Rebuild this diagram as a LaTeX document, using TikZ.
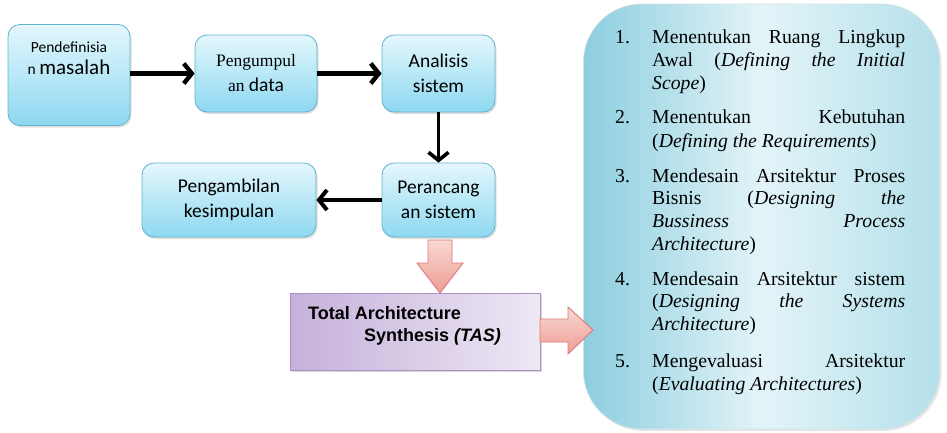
\documentclass[tikz,border=0pt]{standalone}
\usepackage{fontspec}
\setmainfont{Liberation Serif}
\newfontfamily\carl{Carlito}
\newfontfamily\tms{Liberation Serif}
\newfontfamily\arl{Liberation Sans}
\usetikzlibrary{arrows.meta,shadows}
\definecolor{bxtop}{HTML}{E4F7FC}
\definecolor{bxbot}{HTML}{8DD8F1}
\definecolor{bxline}{HTML}{62B2CD}
\definecolor{pktop}{HTML}{F9D8D3}
\definecolor{pkbot}{HTML}{EE9C94}
\definecolor{pkline}{HTML}{D97C74}
\definecolor{tasl}{HTML}{C5B1DA}
\definecolor{tasr}{HTML}{EEE8F5}
\definecolor{tasline}{HTML}{A792C3}
\definecolor{bigl}{HTML}{8CCEDF}
\definecolor{bigm}{HTML}{E3F4F8}
\definecolor{bigr}{HTML}{B4E0EB}
\tikzset{
  blbox/.style={draw=bxline, line width=0.8pt, rounded corners=12pt,
    top color=bxtop, bottom color=bxbot, align=center, inner sep=2pt,
    drop shadow={opacity=0.25, shadow xshift=1.5pt, shadow yshift=-2pt},
    font=\carl\fontsize{19.5}{25}\selectfont},
  blarrow/.style={line width=4.4pt, -{Straight Barb[length=8pt,width=20pt]}},
  pkarrow/.style={draw=pkline, line width=0.9pt, top color=pktop, bottom color=pkbot},
  lt/.style={anchor=base west, inner sep=0pt, font=\tms\fontsize{19.75}{23}\selectfont},
  tast/.style={anchor=base west, inner sep=0pt, font=\arl\bfseries\fontsize{18}{22}\selectfont},
}
\newcommand\JL[1]{\makebox[253pt][s]{#1}}
\begin{document}
\begin{tikzpicture}[x=1pt,y=-1pt]
\useasboundingbox (0,0) rectangle (947,432);
\fill[white] (0,0) rectangle (947,432);

% big rounded panel
\node[draw=bigr!80!black!40, line width=0.6pt, rounded corners=58pt,
  left color=bigl, right color=bigr, middle color=bigm,
  minimum width=356pt, minimum height=425pt, inner sep=0pt,
  drop shadow={opacity=0.2, shadow xshift=2pt, shadow yshift=-2pt}]
  (big) at (761.5,216.5) {};

% left flow boxes
\node[blbox, minimum width=122pt, minimum height=101pt] (pd) at (69,75) {};
\node[anchor=base, inner sep=0pt, font=\carl\fontsize{15.5}{18}\selectfont] (pdt1) at (69,52)
  {Pendefinisia};
\node[anchor=base, inner sep=0pt, font=\carl\fontsize{15.5}{18}\selectfont] (pdt2) at (69,74)
  {n {\fontsize{21}{24}\selectfont masalah}};
\node[blbox, minimum width=122pt, minimum height=77pt] (pg) at (256,73.5)
  {{\tms\fontsize{17.5}{25}\selectfont Pengumpul}\\
   {\tms\fontsize{17.5}{25}\selectfont an} data};
\node[blbox, minimum width=113pt, minimum height=77pt] (an) at (438.5,73.5)
  {Analisis\\sistem};
\node[blbox, minimum width=113pt, minimum height=74pt] (pr) at (438.5,200)
  {Perancang\\an sistem};
\node[blbox, minimum width=174pt, minimum height=74pt] (pk) at (229,200)
  {Pengambilan\\kesimpulan};

% black arrows
\draw[blarrow] (pd.east |- pg) -- (pg.west);
\draw[blarrow] (pg.east) -- (an.west);
\draw[blarrow, line width=3.6pt] (an.south) -- (pr.north);
\draw[blarrow, line width=4pt] (pr.west) -- (pk.east);

% TAS box
\node[draw=tasline, line width=1pt, left color=tasl, right color=tasr,
  minimum width=250pt, minimum height=77pt, inner sep=0pt,
  drop shadow={opacity=0.3, shadow xshift=2pt, shadow yshift=-2pt}]
  (tas) at (415,331.5) {};
\node[tast] (tas1) at (308,319) {Total Architecture};
\node[tast] (tas2) at (364,341) {Synthesis \textit{(TAS)}};

% pink block arrows
\path[pkarrow] (428,240) -- (452,240) -- (452,263) -- (463,263) -- (440,293)
  -- (417,263) -- (428,263) -- cycle;
\path[pkarrow] (540,319) -- (568,319) -- (568,307) -- (593,330) -- (568,354)
  -- (568,342) -- (540,342) -- cycle;

% list
\node[lt] (n1) at (615,43) {1.};
\node[lt] (l1a) at (652,43) {\JL{Menentukan Ruang Lingkup}};
\node[lt] (l1b) at (652,66) {\JL{Awal (\textit{Defining the Initial}}};
\node[lt] (l1c) at (652,89) {\textit{Scope})};

\node[lt] (n2) at (615,123) {2.};
\node[lt] (l2a) at (652,123) {\JL{Menentukan Kebutuhan}};
\node[lt] (l2b) at (652,147) {(\textit{Defining the Requirements})};

\node[lt] (n3) at (615,182) {3.};
\node[lt] (l3a) at (652,182) {\JL{Mendesain Arsitektur Proses}};
\node[lt] (l3b) at (652,204) {\JL{Bisnis (\textit{Designing the}}};
\node[lt] (l3c) at (652,227) {\JL{\textit{Bussiness Process}}};
\node[lt] (l3d) at (652,250) {\textit{Architecture})};

\node[lt] (n4) at (615,285) {4.};
\node[lt] (l4a) at (652,285) {\JL{Mendesain Arsitektur sistem}};
\node[lt] (l4b) at (652,307) {\JL{(\textit{Designing the Systems}}};
\node[lt] (l4c) at (652,330) {\textit{Architecture})};

\node[lt] (n5) at (615,367) {5.};
\node[lt] (l5a) at (652,367) {\JL{Mengevaluasi Arsitektur}};
\node[lt] (l5b) at (652,390) {(\textit{Evaluating Architectures})};
\end{tikzpicture}
\end{document}
